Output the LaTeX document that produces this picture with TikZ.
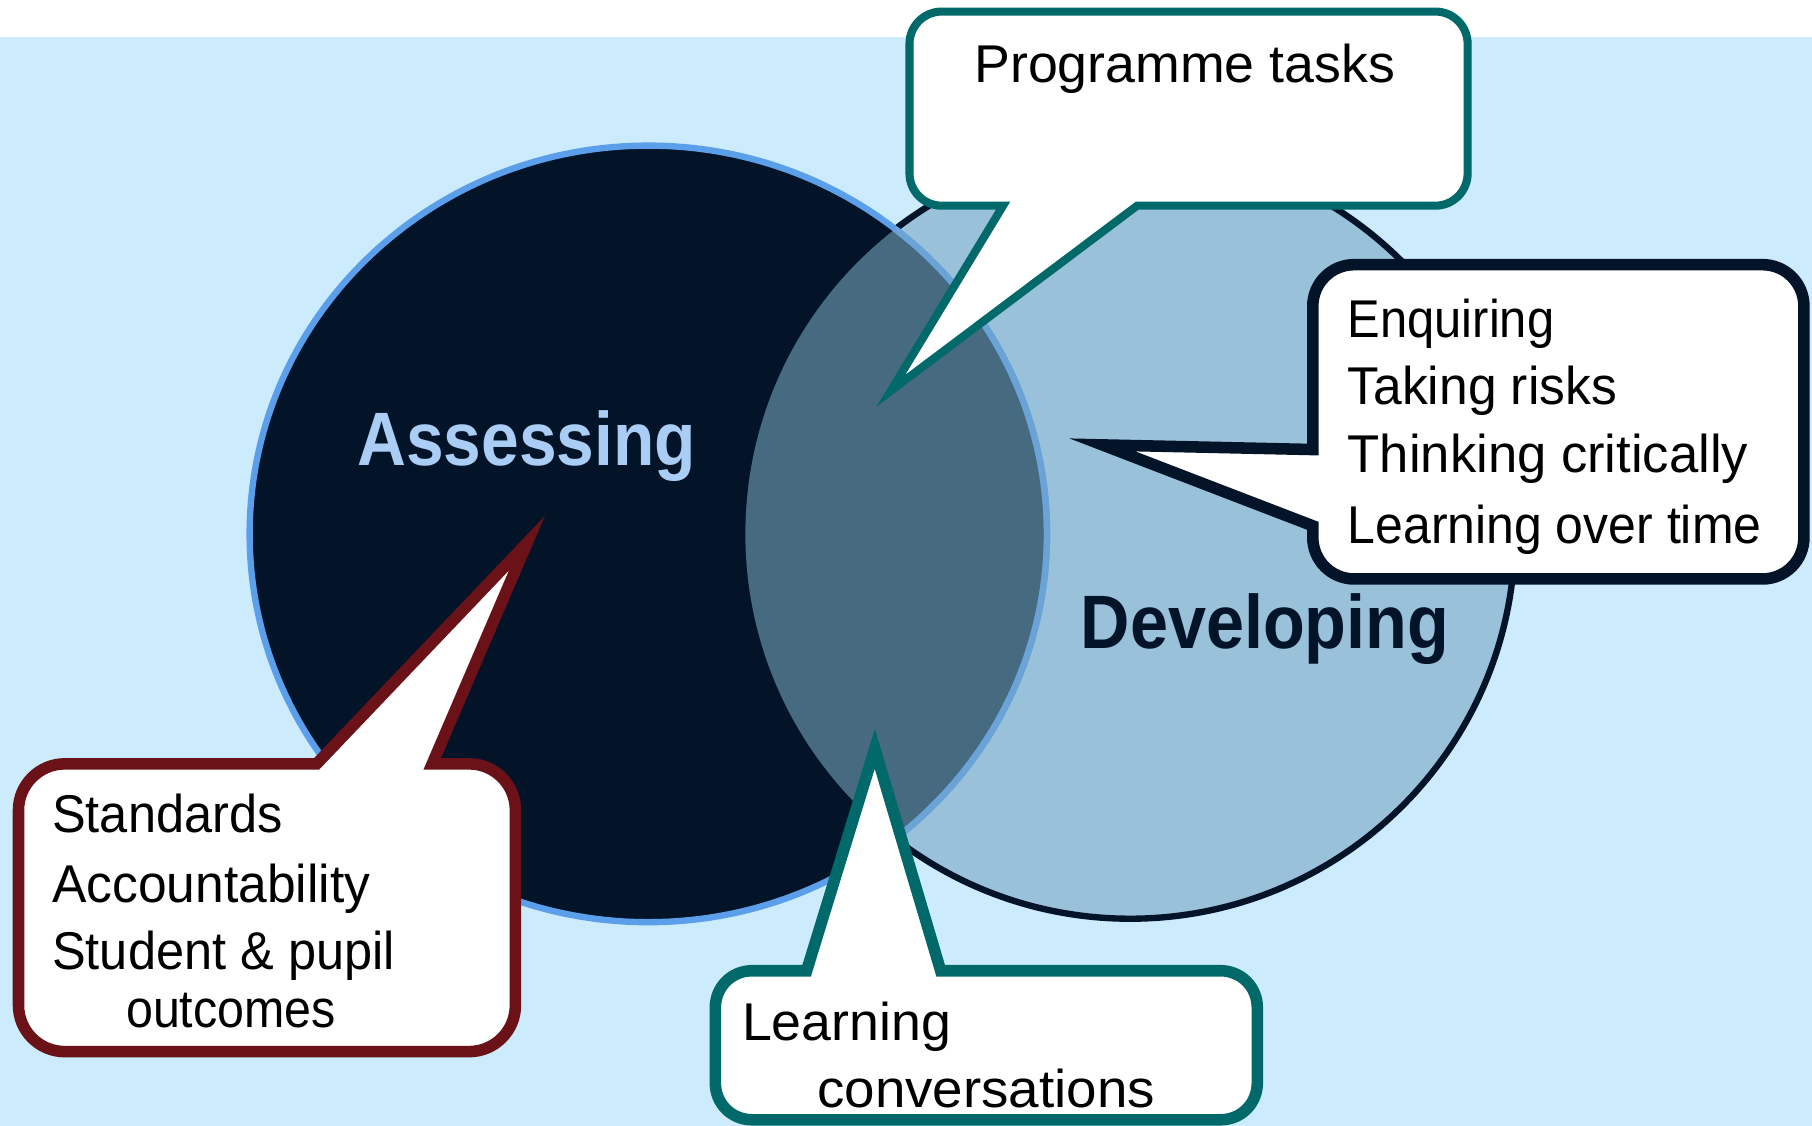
\documentclass[tikz,border=0pt]{standalone}
\usepackage{fontspec}
\setmainfont{Liberation Sans}
\usepackage{graphicx}

\definecolor{bgblue}{HTML}{CCEBFD}
\definecolor{navyfill}{HTML}{041428}
\definecolor{ringblue}{HTML}{5B9FEA}
\definecolor{ringmix}{HTML}{6BA3D6}
\definecolor{devfill}{HTML}{99C1DA}
\definecolor{overlapfill}{HTML}{466A80}
\definecolor{bubbleteal}{HTML}{02696A}
\definecolor{bubblewine}{HTML}{6B1219}
\definecolor{labelblue}{HTML}{A9CDF5}

% horizontal width factor for a line of text
\newcommand{\hsq}[2]{\scalebox{#1}[1]{#2}}

\tikzset{
  itemtext/.style={anchor=base west, inner sep=0pt, text=black,
                   font=\fontsize{46}{56}\selectfont},
  bigword/.style={anchor=base west, inner sep=0pt,
                  font=\fontsize{58}{64}\selectfont\bfseries},
  bubble/.style={fill=white, line join=miter, miter limit=12},
}

\begin{document}
\begin{tikzpicture}[x=1pt,y=-1pt]
  % page and background band
  \fill[white] (0,0) rectangle (1568,974);
  \fill[bgblue] (0,32) rectangle (1568,974);
  \useasboundingbox (0,0) rectangle (1568,974);

  % the two overlapping sets
  \coordinate (cA) at (561,462);
  \coordinate (cD) at (978,462);
  \fill[devfill] (cD) circle[radius=333];
  \draw[navyfill, line width=5.5] (cD) circle[radius=333];
  \fill[navyfill] (cA) ellipse[x radius=345, y radius=336];
  \begin{scope}
    \clip (cD) circle[radius=333];
    \fill[overlapfill] (cA) ellipse[x radius=345, y radius=336];
  \end{scope}
  \draw[ringblue, line width=5.5] (cA) ellipse[x radius=345, y radius=336];
  \begin{scope}
    \clip (cD) circle[radius=333];
    \draw[ringmix, line width=5.5] (cA) ellipse[x radius=345, y radius=336];
  \end{scope}

  % set names
  \node[bigword, text=labelblue] (assessing) at (309,403)
    {\scalebox{1.01}[1.13]{Assessing}};
  \node[bigword, text=navyfill] (developing) at (935,561)
    {\scalebox{1.02}[1.13]{Developing}};

  % callout: programme tasks
  \draw[bubble, draw=bubbleteal, line width=7]
    (815,10) -- (1242,10) .. controls (1257.5,10) and (1270,22.5) .. (1270,38)
    -- (1270,150) .. controls (1270,165.5) and (1257.5,178) .. (1242,178)
    -- (984,178) -- (771,338) -- (868,178)
    -- (815,178) .. controls (799.5,178) and (787,165.5) .. (787,150)
    -- (787,38) .. controls (787,22.5) and (799.5,10) .. (815,10) -- cycle;
  \node[itemtext] (tasks) at (843,71) {\hsq{1.01}{Programme tasks}};

  % callout: developing qualities
  \draw[bubble, draw=navyfill, line width=10]
    (1172,229) -- (1525,229) .. controls (1545,229) and (1561,245) .. (1561,265)
    -- (1561,465) .. controls (1561,485) and (1545,501) .. (1525,501)
    -- (1172,501) .. controls (1152,501) and (1136,485) .. (1136,465)
    -- (1136,455) -- (954,385) -- (1136,389)
    -- (1136,265) .. controls (1136,245) and (1152,229) .. (1172,229) -- cycle;
  \node[itemtext] (enq) at (1166,292) {\hsq{0.92}{Enquiring}};
  \node[itemtext] (risk) at (1166,350) {\hsq{0.97}{Taking risks}};
  \node[itemtext] (crit) at (1166,409) {\hsq{0.99}{Thinking critically}};
  \node[itemtext] (time) at (1166,470) {\hsq{0.94}{Learning over time}};

  % callout: assessing concerns
  \draw[bubble, draw=bubblewine, line width=10]
    (56,661) -- (274,661) -- (456,470) -- (374,661)
    -- (406,661) .. controls (428,661) and (446,679) .. (446,701)
    -- (446,870) .. controls (446,892) and (428,910) .. (406,910)
    -- (56,910) .. controls (34,910) and (16,892) .. (16,870)
    -- (16,701) .. controls (16,679) and (34,661) .. (56,661) -- cycle;
  \node[itemtext] (std) at (45,720) {\hsq{0.95}{Standards}};
  \node[itemtext] (acc) at (45,781) {\hsq{0.97}{Accountability}};
  \node[itemtext] (stu) at (45,839) {\hsq{0.95}{Student \& pupil}};
  \node[itemtext] (out) at (109,889) {\hsq{0.91}{outcomes}};

  % callout: learning conversations
  \draw[bubble, draw=bubbleteal, line width=10]
    (651,840) -- (698,840) -- (757,648) -- (814,840)
    -- (1056,840) .. controls (1074,840) and (1088,854) .. (1088,872)
    -- (1088,937) .. controls (1088,955) and (1074,969) .. (1056,969)
    -- (651,969) .. controls (633,969) and (619,955) .. (619,937)
    -- (619,872) .. controls (619,854) and (633,840) .. (651,840) -- cycle;
  \node[itemtext] (learn) at (642,900) {\hsq{1.01}{Learning}};
  \node[itemtext] (conv) at (707,958) {\hsq{1.03}{conversations}};
\end{tikzpicture}
\end{document}
